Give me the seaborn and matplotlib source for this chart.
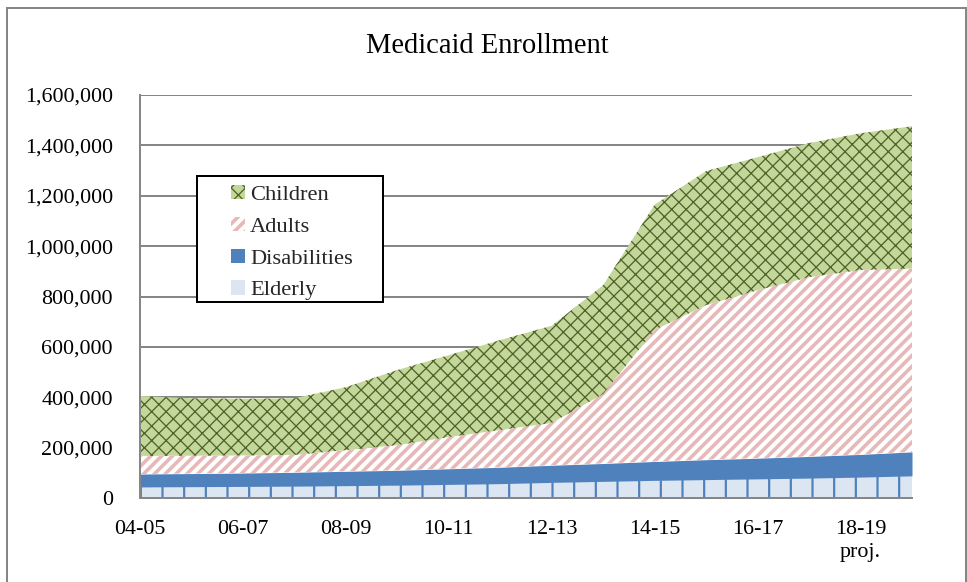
import numpy as np
import pandas as pd
import matplotlib
matplotlib.use("Agg")
import matplotlib.pyplot as plt
import seaborn as sns
from matplotlib.patches import Rectangle

# ---------------- data ----------------
years = ["04-05", "05-06", "06-07", "07-08", "08-09", "09-10", "10-11", "11-12",
         "12-13", "13-14", "14-15", "15-16", "16-17", "17-18", "18-19", "19-20"]
tick_labels = ["04-05", "", "06-07", "", "08-09", "", "10-11", "", "12-13", "",
               "14-15", "", "16-17", "", "18-19\nproj.", ""]
elderly = [44000, 45000, 46000, 47000, 49000, 51000, 54000, 57000,
           62000, 66000, 70000, 73000, 76000, 79000, 83000, 88000]
disabilities = [51000, 52000, 53000, 55000, 57000, 59000, 62000, 65000,
                68000, 71000, 75000, 79000, 82000, 86000, 90000, 95000]
adults = [72000, 71000, 70000, 69000, 84000, 100000, 126000, 148000,
          168000, 276000, 522000, 614000, 667000, 712000, 732000, 728000]
children = [238000, 228000, 225000, 225000, 250000, 298000, 325000, 357000,
            386000, 432000, 498000, 532000, 528000, 532000, 543000, 565000]
series_names = ["Elderly", "Disabilities", "Adults", "Children"]
y_ticks = [0, 200000, 400000, 600000, 800000, 1000000, 1200000, 1400000, 1600000]

df = pd.DataFrame({"year": years, "Elderly": elderly, "Disabilities": disabilities,
                   "Adults": adults, "Children": children})

# ---------------- style ----------------
DPI = 130
PX = 72.0 / DPI  # points per pixel
sns.set_theme(style="white")
plt.rcParams["font.family"] = ["Liberation Serif", "DejaVu Serif"]

fig = plt.figure(figsize=(967 / DPI, 582 / DPI), dpi=DPI)
fig.patch.set_facecolor("white")
ax = fig.add_axes([140 / 967, 1 - 498 / 582, 772 / 967, 403 / 582])

x = np.arange(len(years))
styles = {
    "Elderly": dict(face="#DCE6F2", hatchc="#4F81BD", hatch="|", hlw=2.2),
    "Disabilities": dict(face="#4F81BD", hatchc="#4F81BD", hatch=None, hlw=1.0),
    "Adults": dict(face="white", hatchc="#E6B9B8", hatch="////", hlw=3.6),
    "Children": dict(face="#C4D79B", hatchc="#4F6228", hatch="xxx", hlw=1.3),
}


def with_hatch_lw(artist, lw_pt):
    if hasattr(artist, "set_hatch_linewidth"):
        try:
            artist.set_hatch_linewidth(lw_pt)
        except Exception:
            pass
    orig = artist.draw

    def draw(renderer, *a, **k):
        with plt.rc_context({"hatch.linewidth": lw_pt}):
            return orig(renderer, *a, **k)
    artist.draw = draw


base = np.zeros(len(years))
handles = {}
for name in series_names:
    vals = df[name].to_numpy(dtype=float)
    st = styles[name]
    with plt.rc_context({"hatch.linewidth": st["hlw"] * PX}):
        coll = ax.fill_between(x, base, base + vals, facecolor=st["face"],
                               edgecolor=st["hatchc"], linewidth=0,
                               hatch=st["hatch"], label=name, zorder=2)
    with_hatch_lw(coll, st["hlw"] * PX)
    handles[name] = coll
    base = base + vals

# axes
ax.set_xlim(0, len(years) - 1)
ax.set_ylim(0, 1600000)
ax.set_yticks(y_ticks)
ax.set_yticklabels([f"{v:,}" for v in y_ticks])
ax.set_xticks(x)
ax.set_xticklabels(tick_labels, linespacing=1.3)
ax.yaxis.grid(True, color="#868686", linewidth=2 * PX, zorder=1)
ax.set_axisbelow(True)
for s in ["top", "right"]:
    ax.spines[s].set_visible(False)
for s in ["left", "bottom"]:
    ax.spines[s].set_color("#868686")
    ax.spines[s].set_linewidth(2 * PX)
    ax.spines[s].set_zorder(3)
ax.tick_params(axis="y", length=0, pad=27 * PX, labelsize=22 * PX, labelcolor="black")
ax.tick_params(axis="x", length=7 * PX, width=2 * PX, color="#868686", direction="out",
               pad=15 * PX, labelsize=22 * PX, labelcolor="black")
ax.set_xlabel("")
ax.set_ylabel("")

# title
fig.text(487 / 967, 1 - 46 / 582, "Medicaid Enrollment", ha="center", va="center",
         fontsize=28.5 * PX, color="black")

# legend frame + legend
frame = Rectangle((197 / 967, 1 - 302 / 582), 186 / 967, 126 / 582,
                  transform=fig.transFigure, facecolor="white", edgecolor="black",
                  linewidth=2 * PX, zorder=10, clip_on=False)
ax.add_artist(frame)
order = ["Children", "Adults", "Disabilities", "Elderly"]
leg = ax.legend([handles[n] for n in order], order, loc="upper left",
                bbox_to_anchor=(231 / 967, 1 - 185 / 582),
                bbox_transform=fig.transFigure, frameon=False, borderpad=0,
                borderaxespad=0, handlelength=0.6, handleheight=0.6,
                handletextpad=0.25, labelspacing=0.52, fontsize=22.5 * PX)
leg.set_zorder(11)
for h, n in zip(leg.legend_handles, order):
    with_hatch_lw(h, styles[n]["hlw"] * PX)

# outer chart border
border = Rectangle((7 / 967, -0.1), 959 / 967, 1.1 - 8 / 582, transform=fig.transFigure,
                   facecolor="none", edgecolor="#868686", linewidth=2 * PX,
                   clip_on=False, zorder=0)
fig.add_artist(border)

fig.savefig("out.png", dpi=DPI, facecolor="white")
